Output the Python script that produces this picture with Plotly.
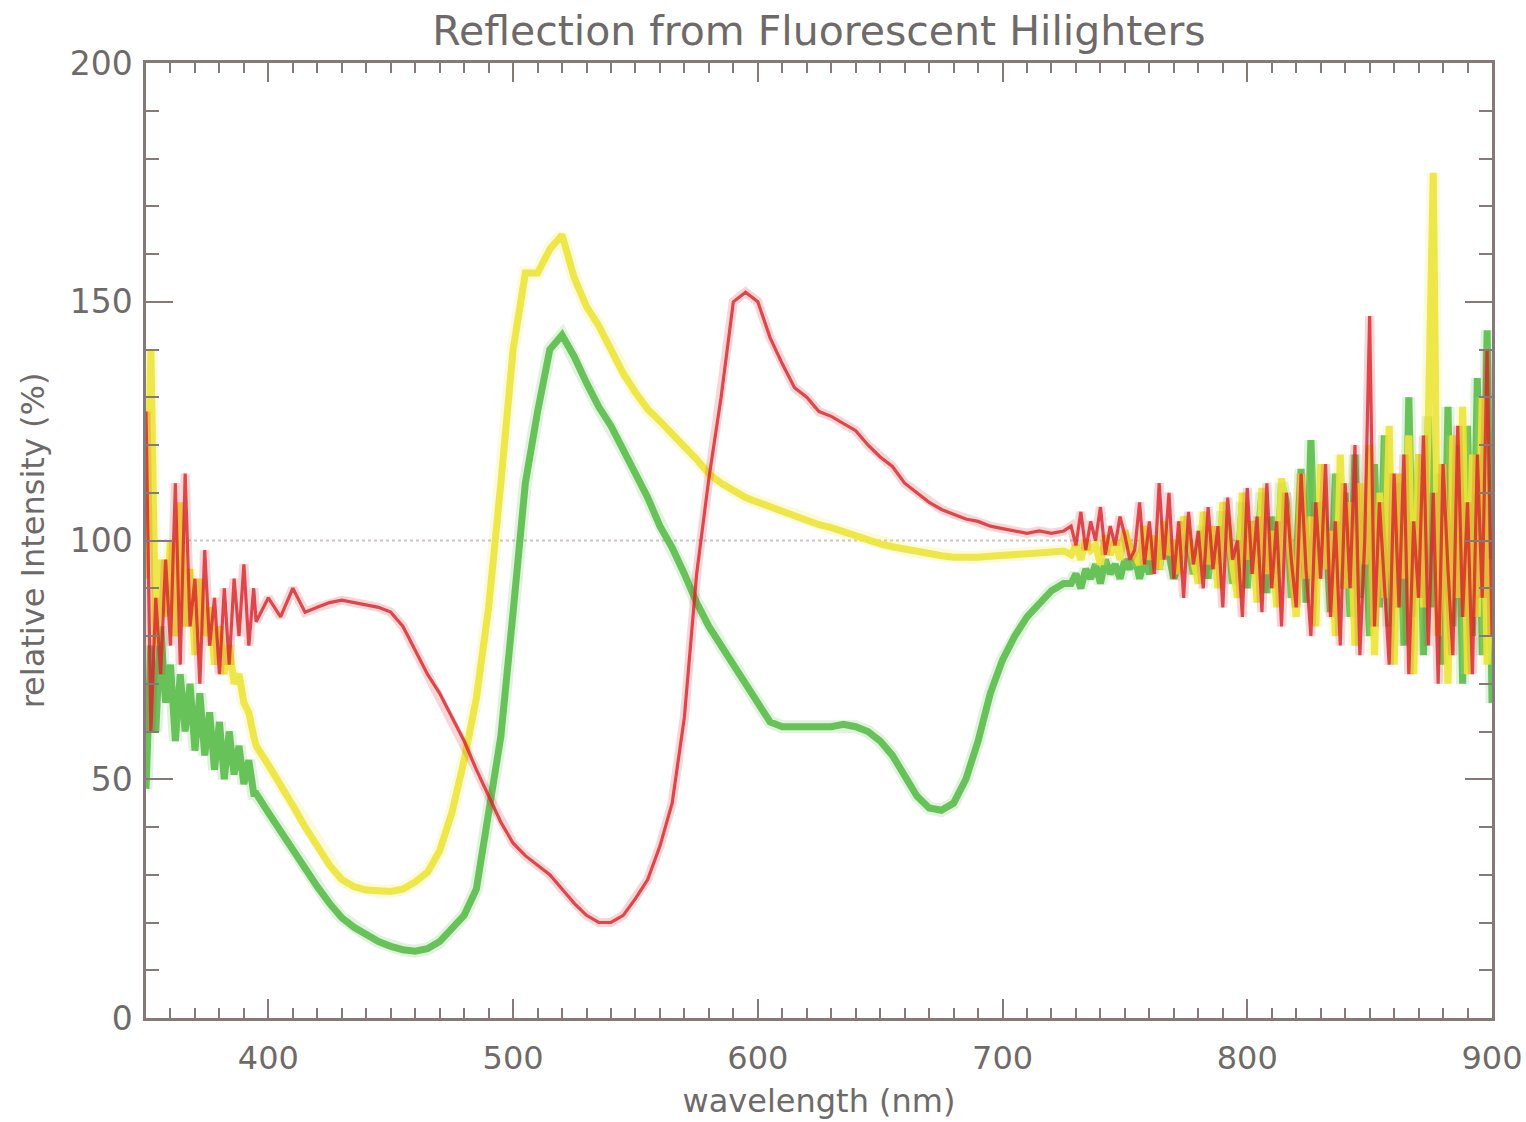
import plotly.graph_objects as go

# ---------------- data ----------------
# wavelength grids (nm): noisy left part, smooth middle part, noisy right part
wl_left = list(range(350, 396, 2))     # 350 ... 394
wl_mid = list(range(395, 730, 5))      # 395 ... 725
wl_right = list(range(728, 902, 2))    # 728 ... 900

green_left = [48, 78, 60, 82, 66, 74, 58, 72, 60, 70, 56, 68, 55, 64, 52, 62, 50, 60, 51, 57, 49, 54, 47]
green_mid = [47, 43, 39, 35, 31, 27.5, 24, 21, 19, 17.5, 16, 15, 14.3, 14, 14.5, 16, 19, 21.5, 27, 42,
             59, 85, 112, 127, 140, 143, 138.5, 133, 128, 124, 119, 114, 109, 103, 98.5, 93, 87, 82, 78,
             74, 70, 66, 62, 61, 61, 61, 61, 61, 61.5, 61, 60, 58, 55, 51, 46.5, 44, 43.5, 45, 50, 58,
             68, 75, 80, 84, 86.5, 89.5, 91]
green_right = [91, 93, 90, 94, 92, 95, 91, 96, 93, 95, 92, 96, 94, 97, 92, 96, 93, 98, 94, 100, 97, 92,
               95, 101, 99, 93, 96, 103, 92, 101, 95, 106, 103, 91, 94, 108, 90, 104, 99, 110, 89, 105,
               93, 112, 108, 88, 96, 115, 87, 121, 92, 108, 103, 85, 114, 90, 110, 84, 118, 88, 106, 80,
               116, 86, 122, 82, 96, 112, 78, 130, 84, 118, 76, 126, 86, 114, 74, 128, 82, 120, 70, 124,
               80, 134, 76, 144, 66]

yellow_left = [92, 140, 78, 96, 84, 100, 80, 108, 82, 94, 76, 92, 80, 86, 74, 82, 72, 78, 70, 72, 66, 64, 59]
yellow_mid = [57, 53, 49, 44.5, 40, 36, 32, 29, 27.5, 26.8, 26.5, 26.5, 27, 28.5, 30.5, 35, 43, 54, 67, 86,
              112, 140, 156, 156, 161, 164, 155, 149, 145, 140, 135, 131, 127.5, 125, 122.5, 120, 117, 114,
              112, 110.5, 109, 108, 107, 106, 105, 104, 103.3, 102.7, 101.8, 101, 100, 99.3, 98.7, 98.2,
              97.6, 97.2, 96.8, 96.5, 96.4, 96.5, 96.7, 96.8, 97, 97.2, 97.4, 97.6, 97.8]
yellow_right = [97, 99, 96, 100, 98, 99, 95, 101, 97, 100, 96, 102, 99, 97, 95, 103, 96, 101, 94, 104, 97,
                100, 93, 105, 101, 96, 91, 106, 95, 103, 90, 108, 102, 94, 88, 110, 96, 104, 87, 111, 93,
                102, 86, 113, 106, 95, 84, 114, 92, 105, 82, 116, 94, 102, 80, 118, 90, 108, 78, 112, 95,
                120, 76, 110, 88, 124, 74, 114, 92, 122, 72, 118, 86, 126, 177, 80, 116, 70, 122, 88, 128,
                72, 118, 84, 130, 74, 96]

red_left = [127, 60, 88, 72, 96, 78, 112, 74, 114, 82, 92, 70, 98, 78, 88, 72, 90, 74, 92, 80, 95, 78, 90]
red_mid = [83, 88, 84, 90, 85, 86, 87, 87.5, 87, 86.5, 86, 85, 82, 77, 72, 68, 63, 58, 52, 46.5, 41, 36.6,
           34, 32, 30, 27, 24, 21.5, 20, 20, 21.5, 25, 29, 36, 45, 63, 93, 113, 130, 150, 152, 150, 142.5,
           137, 132, 130, 127, 126, 124.5, 123, 120, 117.5, 115.5, 112, 110, 108, 106.5, 105.5, 104.5,
           104, 103, 102.5, 102, 101.5, 102, 101.5, 102]
red_right = [103, 99, 106, 98, 104, 100, 107, 97, 103, 99, 105, 101, 96, 98, 108, 95, 104, 93, 112, 96, 110,
             92, 104, 88, 106, 95, 102, 90, 107, 94, 103, 86, 109, 96, 100, 84, 111, 93, 105, 85, 112, 90,
             104, 82, 110, 96, 86, 114, 94, 80, 108, 92, 116, 84, 104, 78, 112, 90, 120, 76, 100, 147, 82,
             108, 92, 74, 114, 86, 118, 72, 104, 88, 122, 78, 110, 70, 116, 94, 76, 124, 84, 108, 72, 118,
             88, 140, 80]

reference_level = [100, 100]
reference_span = [350, 900]

x_ticks = [400, 500, 600, 700, 800, 900]
y_ticks = [0, 50, 100, 150, 200]

wavelength = wl_left + wl_mid + wl_right
green = green_left + green_mid + green_right
yellow = yellow_left + yellow_mid + yellow_right
red = red_left + red_mid + red_right
for s in (green, yellow, red):
    assert len(s) == len(wavelength), (len(s), len(wavelength))

# ---------------- figure ----------------
AXIS = "#857a77"
TEXT = "#6f6a6a"
FONT = "DejaVu Sans, Liberation Sans, sans-serif"

fig = go.Figure()

# dotted 100 % reference line
fig.add_trace(go.Scatter(x=reference_span, y=reference_level, mode="lines",
                         line=dict(color="#cdc5c5", width=2, dash="dot"),
                         hoverinfo="skip", showlegend=False))

series = [
    ("green", green, "#5cbd4c", 7, 0.9),
    ("yellow", yellow, "#ece63a", 7, 0.9),
    ("red", red, "#d8232a", 3.2, 0.8),
]
for name, vals, col, w, op in series:
    # soft halo
    fig.add_trace(go.Scatter(x=wavelength, y=vals, mode="lines",
                             line=dict(color=col, width=w + 6), opacity=0.18,
                             hoverinfo="skip", showlegend=False))
    fig.add_trace(go.Scatter(x=wavelength, y=vals, mode="lines", name=name,
                             line=dict(color=col, width=w), opacity=op,
                             showlegend=False))

fig.update_layout(
    width=1526, height=1122,
    margin=dict(l=146, r=34, t=63, b=104),
    paper_bgcolor="white", plot_bgcolor="white",
    font=dict(family=FONT, color=TEXT),
    title=dict(text="Reflection from Fluorescent Hilighters",
               x=0.5, xref="paper", xanchor="center",
               y=1 - 31 / 1122, yref="container", yanchor="middle",
               font=dict(size=41, color=TEXT, family=FONT)),
    showlegend=False,
)

fig.update_xaxes(
    range=[350, 900], tickvals=x_ticks, ticktext=[str(v) for v in x_ticks],
    showgrid=False, zeroline=False, automargin=False,
    showline=True, linecolor=AXIS, linewidth=2.5, mirror="allticks",
    ticks="inside", ticklen=19, tickwidth=2, tickcolor=AXIS,
    minor=dict(dtick=10, ticks="inside", ticklen=10, tickwidth=1.5, tickcolor=AXIS, showgrid=False),
    tickfont=dict(size=32, color=TEXT, family=FONT),
    ticklabelstandoff=10, ticklabeloverflow="allow",
    title=dict(text="wavelength (nm)", font=dict(size=32, color=TEXT, family=FONT), standoff=14),
)
fig.update_yaxes(
    range=[0, 200], tickvals=y_ticks, ticktext=[str(v) for v in y_ticks],
    showgrid=False, zeroline=False, automargin=True,
    showline=True, linecolor=AXIS, linewidth=2.5, mirror="allticks",
    ticks="inside", ticklen=27, tickwidth=2, tickcolor=AXIS,
    minor=dict(dtick=10, ticks="inside", ticklen=13, tickwidth=1.5, tickcolor=AXIS, showgrid=False),
    tickfont=dict(size=33, color=TEXT, family=FONT),
    ticklabelstandoff=4,
    title=dict(text="relative Intensity (%)", font=dict(size=32, color=TEXT, family=FONT), standoff=16),
)

# remove the default 8 px page margin so the figure sits exactly in the window
fig.write_html("out.html", config={"displayModeBar": False},
               post_script="document.body.style.margin='0';")
